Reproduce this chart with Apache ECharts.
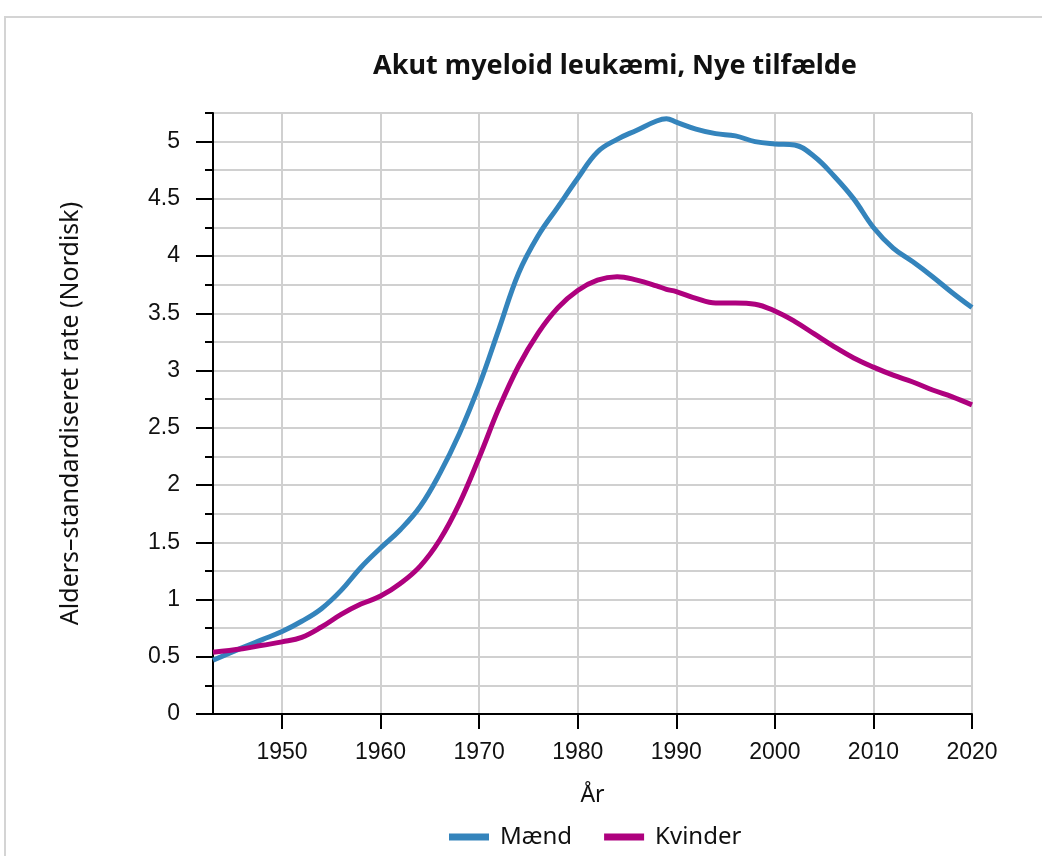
<!DOCTYPE html>
<html>
<head>
<meta charset="utf-8">
<script src="https://cdn.jsdelivr.net/npm/echarts@6/dist/echarts.min.js"></script>
<style>
  html, body { margin: 0; padding: 0; background: #fff; }
  #chart { width: 1042px; height: 856px; }
</style>
</head>
<body>
<div id="chart"></div>
<script>
// år og rater
var years = [1943, 1946, 1948, 1950, 1952, 1954, 1956, 1958, 1960, 1962, 1964, 1966, 1968, 1970,
    1972, 1974, 1976, 1978, 1980, 1982, 1984, 1986, 1988, 1989, 1990, 1992, 1994, 1996, 1998,
    2000, 2002, 2004, 2006, 2008, 2010, 2012, 2014, 2016, 2018, 2020];
var maend = [0.47, 0.58, 0.65, 0.72, 0.81, 0.92, 1.08, 1.28, 1.45, 1.61, 1.81, 2.10, 2.45, 2.87,
    3.36, 3.85, 4.18, 4.43, 4.68, 4.91, 5.02, 5.10, 5.18, 5.20, 5.17, 5.11, 5.07, 5.05, 5.00,
    4.98, 4.97, 4.87, 4.70, 4.50, 4.25, 4.07, 3.95, 3.82, 3.68, 3.55];
var kvinder = [0.54, 0.57, 0.60, 0.63, 0.67, 0.76, 0.87, 0.96, 1.03, 1.14, 1.29, 1.52, 1.84, 2.24,
    2.67, 3.04, 3.33, 3.55, 3.70, 3.79, 3.82, 3.79, 3.74, 3.71, 3.69, 3.63, 3.59, 3.59, 3.58,
    3.52, 3.43, 3.32, 3.21, 3.11, 3.03, 2.96, 2.90, 2.83, 2.77, 2.70];
var xTicks = [1950, 1960, 1970, 1980, 1990, 2000, 2010, 2020];
var yTicks = [0, 0.5, 1, 1.5, 2, 2.5, 3, 3.5, 4, 4.5, 5];

function pairs(vals) {
    return years.map(function (y, i) { return [y, vals[i]]; });
}

var chart = echarts.init(document.getElementById('chart'));
var tickFont = { fontFamily: 'Liberation Sans', fontSize: 23, color: '#111' };

var option = {
    animation: false,
    backgroundColor: '#fff',
    graphic: [{
        type: 'rect',
        shape: { x: 5, y: 17, width: 1060, height: 860 },
        style: { fill: 'none', stroke: '#d4d4d4', lineWidth: 2 }
    }],
    title: {
        text: 'Akut myeloid leukæmi, Nye tilfælde',
        left: 610, top: 48, textAlign: 'center',
        textStyle: { fontFamily: 'Noto Sans', fontWeight: 'bold', fontSize: 27, color: '#111' }
    },
    legend: {
        bottom: 2, left: 444,
        itemWidth: 40, itemHeight: 7, itemGap: 32,
        icon: 'rect',
        textStyle: { fontFamily: 'Noto Sans', fontSize: 24, color: '#111', padding: [0, 0, 0, 6] },
        data: ['Mænd', 'Kvinder']
    },
    grid: { left: 213, right: 70, top: 113, bottom: 142, containLabel: false },
    xAxis: {
        type: 'value', min: 1943, max: 2020,
        name: 'År', nameLocation: 'middle', nameGap: 70,
        nameTextStyle: { fontFamily: 'Noto Sans', fontSize: 23, color: '#111' },
        axisLine: { show: true, onZero: false, lineStyle: { color: '#000', width: 2 } },
        axisTick: { show: true, length: 15, customValues: xTicks, lineStyle: { color: '#000', width: 2 } },
        axisLabel: Object.assign({
            margin: 27, customValues: xTicks,
            formatter: function (v) { return String(v); }
        }, tickFont),
        splitLine: { show: true, lineStyle: { color: '#d0d0d0', width: 2 } }
    },
    yAxis: [{
        type: 'value', min: 0, max: 5.25, interval: 0.25,
        name: 'Alders–standardiseret rate (Nordisk)', nameLocation: 'middle', nameGap: 130,
        nameTextStyle: { fontFamily: 'Noto Sans', fontSize: 25, color: '#111' },
        axisLine: { show: true, lineStyle: { color: '#000', width: 2 } },
        axisTick: { show: true, length: 8, lineStyle: { color: '#000', width: 2 } },
        axisLabel: Object.assign({ margin: 33, customValues: yTicks }, tickFont),
        splitLine: { show: true, lineStyle: { color: '#d0d0d0', width: 2 } }
    }, {
        type: 'value', min: 0, max: 5.25, interval: 0.25, position: 'left',
        axisLine: { show: false },
        axisTick: { show: true, length: 17, customValues: yTicks, lineStyle: { color: '#000', width: 2 } },
        axisLabel: { show: false },
        splitLine: { show: false }
    }],
    series: [{
        name: 'Mænd', type: 'line', smooth: 0.4, showSymbol: false,
        lineStyle: { color: '#3484bc', width: 5 },
        itemStyle: { color: '#3484bc' },
        data: pairs(maend)
    }, {
        name: 'Kvinder', type: 'line', smooth: 0.4, showSymbol: false,
        lineStyle: { color: '#ae017e', width: 5 },
        itemStyle: { color: '#ae017e' },
        data: pairs(kvinder)
    }]
};
chart.setOption(option);
</script>
</body>
</html>
